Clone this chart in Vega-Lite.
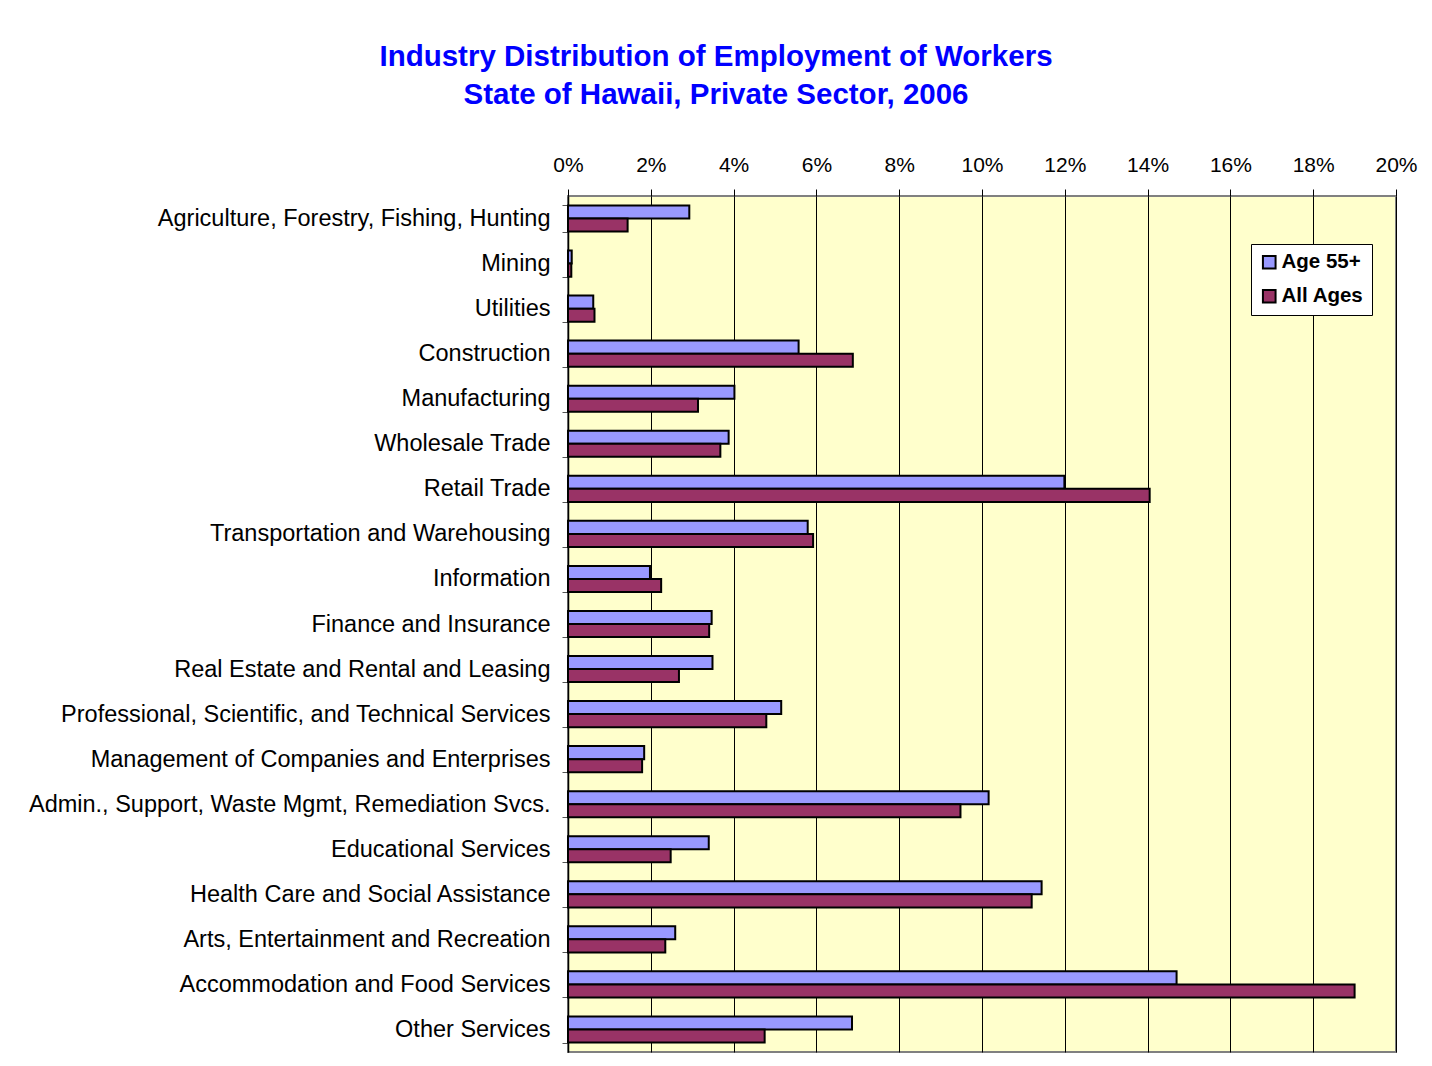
{
  "$schema": "https://vega.github.io/schema/vega-lite/v6.json",
  "width": 828,
  "height": 856,
  "autosize": {"type": "none"},
  "padding": {"left": 568, "top": 196, "right": 36, "bottom": 14},
  "background": "white",
  "title": {
    "text": ["Industry Distribution of Employment of Workers", "State of Hawaii, Private Sector, 2006"],
    "color": "#0000FF",
    "font": "Liberation Sans",
    "fontSize": 29.5,
    "fontWeight": "bold",
    "lineHeight": 38,
    "anchor": "middle",
    "dx": -266,
    "offset": 44
  },
  "data": {
    "values": [
      {"industry": "Agriculture, Forestry, Fishing, Hunting", "series": "Age 55+", "share": 0.0293},
      {"industry": "Agriculture, Forestry, Fishing, Hunting", "series": "All Ages", "share": 0.0144},
      {"industry": "Mining", "series": "Age 55+", "share": 0.0009},
      {"industry": "Mining", "series": "All Ages", "share": 0.0008},
      {"industry": "Utilities", "series": "Age 55+", "share": 0.0061},
      {"industry": "Utilities", "series": "All Ages", "share": 0.0064},
      {"industry": "Construction", "series": "Age 55+", "share": 0.0557},
      {"industry": "Construction", "series": "All Ages", "share": 0.0688},
      {"industry": "Manufacturing", "series": "Age 55+", "share": 0.0402},
      {"industry": "Manufacturing", "series": "All Ages", "share": 0.0314},
      {"industry": "Wholesale Trade", "series": "Age 55+", "share": 0.0388},
      {"industry": "Wholesale Trade", "series": "All Ages", "share": 0.0368},
      {"industry": "Retail Trade", "series": "Age 55+", "share": 0.1199},
      {"industry": "Retail Trade", "series": "All Ages", "share": 0.1405},
      {"industry": "Transportation and Warehousing", "series": "Age 55+", "share": 0.0579},
      {"industry": "Transportation and Warehousing", "series": "All Ages", "share": 0.0592},
      {"industry": "Information", "series": "Age 55+", "share": 0.0198},
      {"industry": "Information", "series": "All Ages", "share": 0.0225},
      {"industry": "Finance and Insurance", "series": "Age 55+", "share": 0.0347},
      {"industry": "Finance and Insurance", "series": "All Ages", "share": 0.0341},
      {"industry": "Real Estate and Rental and Leasing", "series": "Age 55+", "share": 0.0349},
      {"industry": "Real Estate and Rental and Leasing", "series": "All Ages", "share": 0.0268},
      {"industry": "Professional, Scientific, and Technical Services", "series": "Age 55+", "share": 0.0515},
      {"industry": "Professional, Scientific, and Technical Services", "series": "All Ages", "share": 0.0479},
      {"industry": "Management of Companies and Enterprises", "series": "Age 55+", "share": 0.0184},
      {"industry": "Management of Companies and Enterprises", "series": "All Ages", "share": 0.0179},
      {"industry": "Admin., Support, Waste Mgmt, Remediation Svcs.", "series": "Age 55+", "share": 0.1016},
      {"industry": "Admin., Support, Waste Mgmt, Remediation Svcs.", "series": "All Ages", "share": 0.0948},
      {"industry": "Educational Services", "series": "Age 55+", "share": 0.0340},
      {"industry": "Educational Services", "series": "All Ages", "share": 0.0248},
      {"industry": "Health Care and Social Assistance", "series": "Age 55+", "share": 0.1144},
      {"industry": "Health Care and Social Assistance", "series": "All Ages", "share": 0.1120},
      {"industry": "Arts, Entertainment and Recreation", "series": "Age 55+", "share": 0.0259},
      {"industry": "Arts, Entertainment and Recreation", "series": "All Ages", "share": 0.0235},
      {"industry": "Accommodation and Food Services", "series": "Age 55+", "share": 0.1470},
      {"industry": "Accommodation and Food Services", "series": "All Ages", "share": 0.1900},
      {"industry": "Other Services", "series": "Age 55+", "share": 0.0686},
      {"industry": "Other Services", "series": "All Ages", "share": 0.0475}
    ]
  },
  "mark": {"type": "bar", "stroke": "black", "strokeWidth": 2, "opacity": 1},
  "encoding": {
    "y": {
      "field": "industry",
      "type": "nominal",
      "sort": null,
      "title": null,
      "scale": {"paddingInner": 0.42, "paddingOuter": 0.21},
      "axis": {
        "labelFont": "Liberation Sans",
        "labelFontSize": 23.5,
        "labelColor": "black",
        "labelPadding": 12,
        "labelLimit": 560,
        "tickBand": "extent",
        "tickColor": "#555555",
        "tickSize": 6,
        "domainColor": "black",
        "domainWidth": 1.5
      }
    },
    "yOffset": {"field": "series", "type": "nominal", "sort": ["Age 55+", "All Ages"]},
    "x": {
      "field": "share",
      "type": "quantitative",
      "title": null,
      "scale": {"domain": [0, 0.2], "nice": false},
      "axis": {
        "orient": "top",
        "format": ".0%",
        "values": [0, 0.02, 0.04, 0.06, 0.08, 0.1, 0.12, 0.14, 0.16, 0.18, 0.2],
        "labelFont": "Liberation Sans",
        "labelFontSize": 21,
        "labelColor": "black",
        "labelFlush": false,
        "labelPadding": 14,
        "domain": false,
        "tickColor": "black",
        "tickSize": 7,
        "grid": true,
        "gridColor": "black",
        "gridWidth": 1,
        "gridOpacity": 1
      }
    },
    "color": {
      "field": "series",
      "type": "nominal",
      "scale": {"domain": ["Age 55+", "All Ages"], "range": ["#9999FF", "#993366"]},
      "legend": {
        "title": null,
        "orient": "none",
        "legendX": 683,
        "legendY": 48,
        "fillColor": "white",
        "strokeColor": "black",
        "padding": 8,
        "symbolType": "square",
        "symbolSize": 160,
        "symbolStrokeColor": "black",
        "symbolStrokeWidth": 2,
        "symbolOpacity": 1,
        "labelFont": "Liberation Sans",
        "labelFontSize": 20.5,
        "labelFontWeight": "bold",
        "labelColor": "black",
        "labelOffset": 2,
        "rowPadding": 12
      }
    }
  },
  "config": {
    "view": {"fill": "#FFFFCC", "stroke": "#808080", "strokeWidth": 2}
  }
}
